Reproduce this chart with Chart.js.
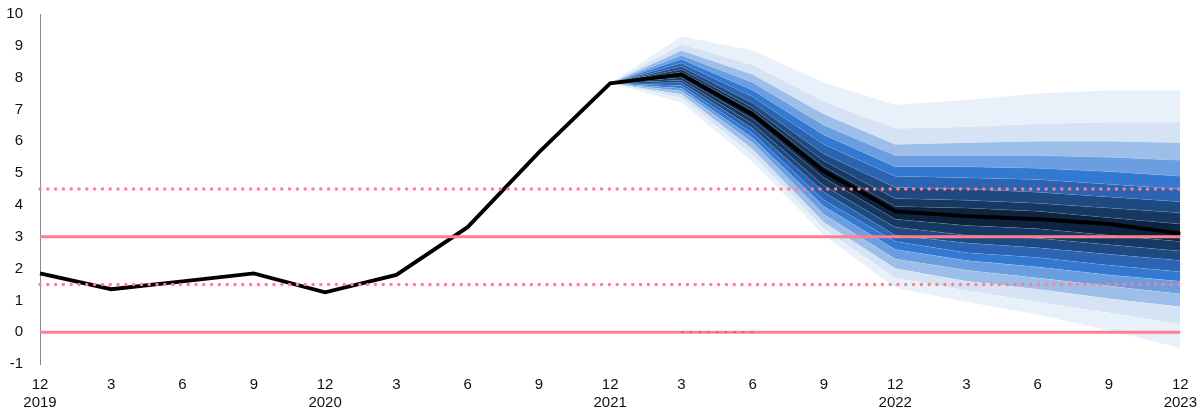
<!DOCTYPE html>
<html>
<head>
<meta charset="utf-8">
<script src="https://cdn.jsdelivr.net/npm/chart.js@4"></script>
<style>
  html, body { margin: 0; padding: 0; background: #fff; }
</style>
</head>
<body>
<canvas id="chart" width="1201" height="412"></canvas>
<script>
// quarters: 12/2019 .. 12/2023
const labels = [
    ['12', '2019'], '3', '6', '9',
    ['12', '2020'], '3', '6', '9',
    ['12', '2021'], '3', '6', '9',
    ['12', '2022'], '3', '6', '9',
    ['12', '2023']
];

// central path (actual + forecast)
const central = [1.85, 1.35, 1.6, 1.85, 1.25, 1.8, 3.3, 5.65, 7.82, 8.1, 6.85, 5.05, 3.8, 3.65, 3.55, 3.4, 3.1];

// fan boundaries from 12/2021 onward (9 values each), before that nothing
const pad = [null, null, null, null, null, null, null, null];
// upper edges, outermost first
const up1 = [7.82, 9.3, 8.85, 7.85, 7.15, 7.3, 7.5, 7.6, 7.6];
const up2 = [7.82, 9.05, 8.4, 7.25, 6.4, 6.45, 6.55, 6.6, 6.6];
const up3 = [7.82, 8.85, 8.1, 6.85, 5.9, 5.95, 6.0, 6.0, 5.95];
const up4 = [7.82, 8.7, 7.85, 6.5, 5.55, 5.55, 5.55, 5.5, 5.4];
const up5 = [7.82, 8.58, 7.6, 6.2, 5.2, 5.2, 5.15, 5.05, 4.9];
const up6 = [7.82, 8.46, 7.4, 5.9, 4.9, 4.85, 4.8, 4.65, 4.5];
const up7 = [7.82, 8.35, 7.2, 5.6, 4.55, 4.5, 4.4, 4.25, 4.1];
const up8 = [7.82, 8.26, 7.05, 5.38, 4.2, 4.15, 4.05, 3.9, 3.75];
const up9 = [7.82, 8.18, 6.95, 5.2, 3.95, 3.9, 3.8, 3.6, 3.4];
// lower edges, innermost first
const lo1 = [7.82, 8.0, 6.7, 4.85, 3.55, 3.35, 3.25, 3.05, 2.85];
const lo2 = [7.82, 7.92, 6.55, 4.6, 3.3, 3.05, 2.95, 2.75, 2.55];
const lo3 = [7.82, 7.84, 6.4, 4.4, 3.05, 2.8, 2.65, 2.45, 2.25];
const lo4 = [7.82, 7.75, 6.25, 4.15, 2.85, 2.5, 2.35, 2.1, 1.9];
const lo5 = [7.82, 7.67, 6.1, 3.95, 2.6, 2.25, 2.05, 1.8, 1.6];
const lo6 = [7.82, 7.58, 5.95, 3.7, 2.3, 1.95, 1.7, 1.45, 1.2];
const lo7 = [7.82, 7.48, 5.75, 3.45, 2.0, 1.6, 1.35, 1.05, 0.8];
const lo8 = [7.82, 7.36, 5.55, 3.25, 1.7, 1.3, 0.95, 0.6, 0.25];
const lo9 = [7.82, 7.22, 5.35, 3.05, 1.4, 0.95, 0.55, 0.05, -0.5];

// target and tolerance band
const target = 3;
const tolHi = 4.5;
const tolLo = 1.5;
const zero = 0;
// small dotted piece on the zero line (3/2022 - 6/2022)
const zeroMark = [null, null, null, null, null, null, null, null, null, 0, 0, null, null, null, null, null, null];

const bandColors = ['#e8f1fa', '#d5e3f4', '#9cbee8', '#6b9ee0', '#3479d1', '#2a64b3', '#1e4a81', '#163964', '#0d2441'];
const pink = '#ff7f8f';

const flat = v => labels.map(() => v);

// build the fan: bottom edge first, each next one filled down to the previous
const fanLines = [lo9, lo8, lo7, lo6, lo5, lo4, lo3, lo2, lo1, up9, up8, up7, up6, up5, up4, up3, up2, up1];
const fanFill = [null,
    bandColors[0], bandColors[1], bandColors[2], bandColors[3], bandColors[4], bandColors[5], bandColors[6], bandColors[7],
    bandColors[8],
    bandColors[7], bandColors[6], bandColors[5], bandColors[4], bandColors[3], bandColors[2], bandColors[1], bandColors[0]];

const fanSets = fanLines.map((line, i) => ({
    data: pad.concat(line),
    borderWidth: 0.6,
    borderColor: 'rgba(255,255,255,0.18)',
    backgroundColor: fanFill[i] || 'transparent',
    fill: i === 0 ? false : '-1',
    pointRadius: 0,
    order: 3
}));

const lineSets = [
    { data: zeroMark, borderColor: 'rgba(110,70,80,0.55)', borderWidth: 1.5, borderDash: [2, 6.7], order: -1 },
    { data: flat(target), borderColor: pink, borderWidth: 3, order: 0 },
    { data: flat(zero), borderColor: pink, borderWidth: 3, order: 0 },
    { data: flat(tolHi), borderColor: pink, borderWidth: 3.5, borderDash: [0, 7.8], borderCapStyle: 'round', order: 0 },
    { data: flat(tolLo), borderColor: pink, borderWidth: 3.5, borderDash: [0, 7.8], borderCapStyle: 'round', order: 0 },
    { data: central, borderColor: '#000', borderWidth: 3.8, order: 1, borderJoinStyle: 'miter' }
].map(d => Object.assign({ fill: false, pointRadius: 0, tension: 0 }, d));

new Chart(document.getElementById('chart'), {
    type: 'line',
    data: {
        labels: labels,
        datasets: lineSets.concat(fanSets)
    },
    options: {
        responsive: false,
        animation: false,
        layout: { padding: { top: 0, right: 2, left: 0, bottom: 0 } },
        plugins: {
            legend: { display: false },
            tooltip: { enabled: false }
        },
        scales: {
            x: {
                grid: { display: false },
                border: { display: false },
                ticks: {
                    color: '#111',
                    font: { family: 'Liberation Sans', size: 15, lineHeight: 1.2 },
                    padding: 4,
                    maxRotation: 0,
                    autoSkip: false
                },
                afterFit: scale => { scale.height = 48; }
            },
            y: {
                min: -1,
                max: 10,
                grid: { display: false },
                border: { display: true, color: '#8a8a8a', width: 1 },
                ticks: {
                    stepSize: 1,
                    color: '#111',
                    font: { family: 'Liberation Sans', size: 15, lineHeight: 1 },
                    padding: 9
                },
                afterFit: scale => {
                    scale.width = 40;
                    scale.paddingTop = 14;
                }
            }
        }
    }
});
</script>
